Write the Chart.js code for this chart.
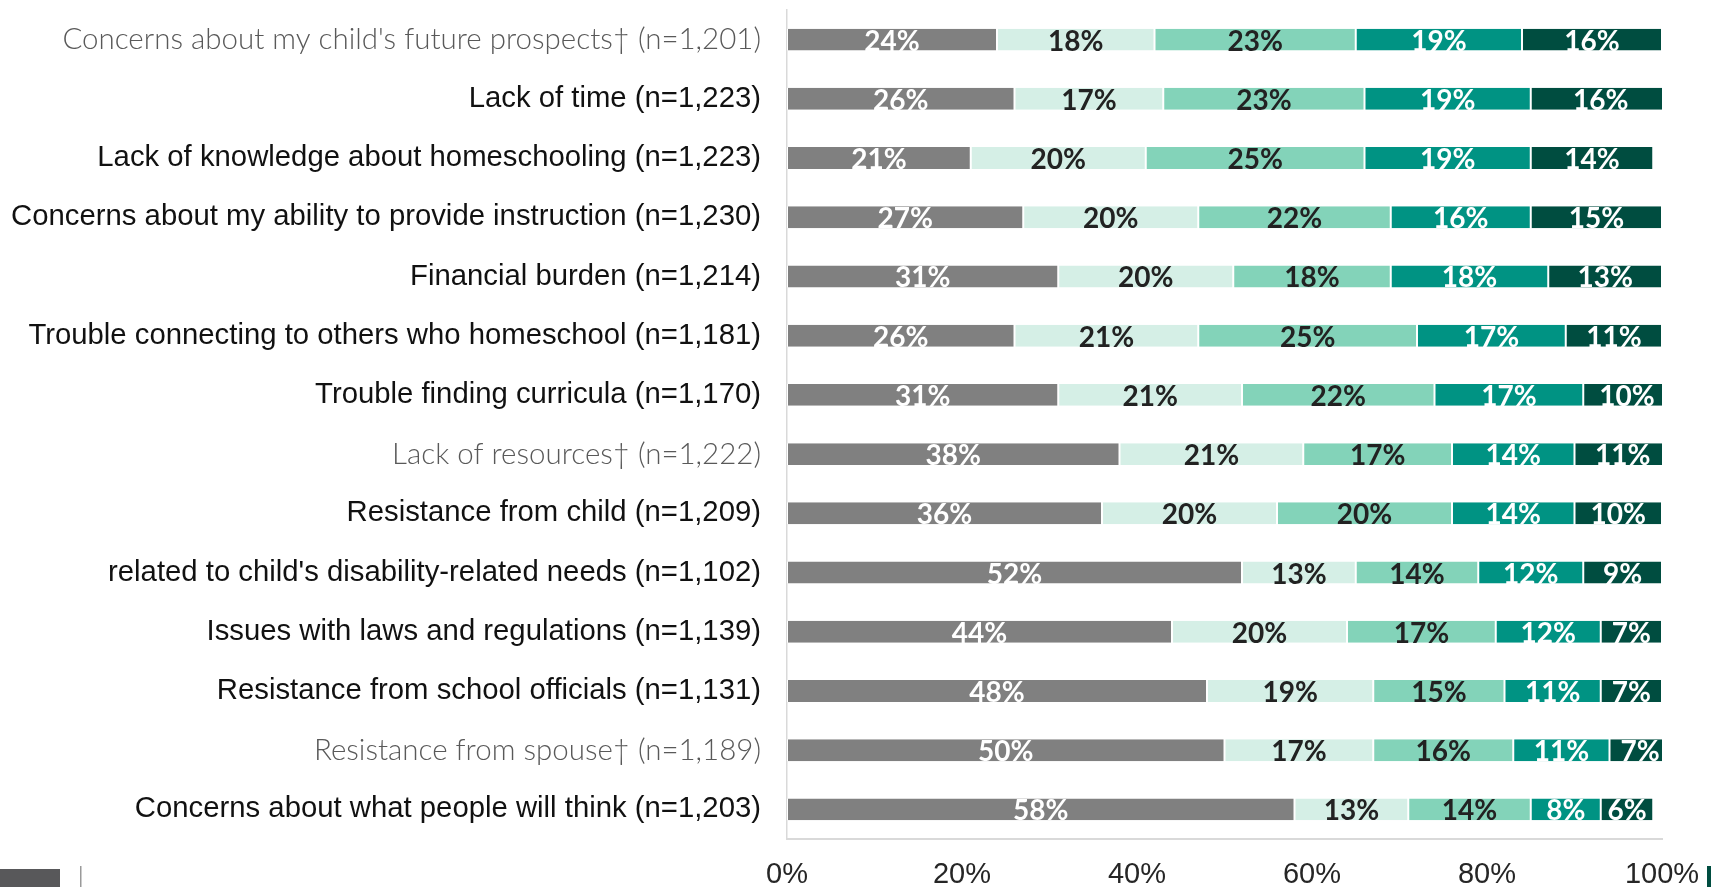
<!DOCTYPE html>
<html>
<head>
<meta charset="utf-8">
<script src="https://cdn.jsdelivr.net/npm/chart.js@4/dist/chart.umd.min.js"></script>
<style>
  html, body { margin: 0; padding: 0; background: #fff; }
  #wrap { width: 1711px; height: 887px; position: relative; }
</style>
</head>
<body>
<div id="wrap"><canvas id="barriersChart"></canvas></div>
<script>
const categories = [
  "Concerns about my child's future prospects\u2020 (n=1,201)",
  "Lack of time (n=1,223)",
  "Lack of knowledge about homeschooling (n=1,223)",
  "Concerns about my ability to provide instruction (n=1,230)",
  "Financial burden (n=1,214)",
  "Trouble connecting to others who homeschool (n=1,181)",
  "Trouble finding curricula (n=1,170)",
  "Lack of resources\u2020 (n=1,222)",
  "Resistance from child (n=1,209)",
  "related to child's disability-related needs (n=1,102)",
  "Issues with laws and regulations (n=1,139)",
  "Resistance from school officials (n=1,131)",
  "Resistance from spouse\u2020 (n=1,189)",
  "Concerns about what people will think (n=1,203)"
];

// rows marked with a dagger use the lighter label style
const daggerRows = [0, 7, 12];

const level1 = [24, 26, 21, 27, 31, 26, 31, 38, 36, 52, 44, 48, 50, 58];
const level2 = [18, 17, 20, 20, 20, 21, 21, 21, 20, 13, 20, 19, 17, 13];
const level3 = [23, 23, 25, 22, 18, 25, 22, 17, 20, 14, 17, 15, 16, 14];
const level4 = [19, 19, 19, 16, 18, 17, 17, 14, 14, 12, 12, 11, 11, 8];
const level5 = [16, 16, 14, 15, 13, 11, 10, 11, 10, 9, 7, 7, 7, 6];

const xTicks = [0, 20, 40, 60, 80, 100];

const barColors = ['#808080', '#d5efe6', '#83d3b9', '#009383', '#004d40'];
const labelColors = ['#ffffff', '#222222', '#222222', '#ffffff', '#ffffff'];

// percentage text in the middle of each segment
const segmentLabels = {
  id: 'segmentLabels',
  afterDatasetsDraw(chart) {
    const ctx = chart.ctx;
    ctx.save();
    ctx.font = 'bold 28px Lato';
    ctx.textAlign = 'center';
    ctx.textBaseline = 'middle';
    chart.data.datasets.forEach((ds, di) => {
      const meta = chart.getDatasetMeta(di);
      ctx.fillStyle = labelColors[di];
      meta.data.forEach((bar, i) => {
        const p = bar.getProps(['x', 'y', 'base'], true);
        ctx.fillText(ds.data[i] + '%', (p.x + p.base) / 2, p.y + 2);
      });
    });
    ctx.restore();
  }
};

// bits of the legend strip along the bottom edge
const legendStrip = {
  id: 'legendStrip',
  afterDraw(chart) {
    const ctx = chart.ctx;
    ctx.save();
    ctx.fillStyle = '#58585a';
    ctx.fillRect(0, 869, 60, 18);
    ctx.fillStyle = '#9a9a9a';
    ctx.fillRect(80, 866, 1.5, 21);
    ctx.fillStyle = '#004d40';
    ctx.fillRect(1707, 866, 4, 21);
    ctx.restore();
  }
};

const datasets = [level1, level2, level3, level4, level5].map((vals, i) => ({
  label: 'Level ' + (i + 1),
  data: vals,
  backgroundColor: barColors[i],
  borderColor: '#ffffff',
  borderWidth: { left: 1, right: 1, top: 0, bottom: 0 },
  borderSkipped: false,
  barPercentage: 0.37,
  categoryPercentage: 1
}));

new Chart(document.getElementById('barriersChart'), {
  type: 'bar',
  data: { labels: categories, datasets: datasets },
  options: {
    indexAxis: 'y',
    responsive: true,
    maintainAspectRatio: false,
    animation: false,
    layout: { padding: { top: 10, right: 49, left: 0, bottom: 0 } },
    plugins: {
      legend: { display: false },
      tooltip: { enabled: false }
    },
    scales: {
      x: {
        stacked: true,
        min: 0,
        max: 100,
        afterBuildTicks(scale) {
          scale.ticks = xTicks.map(v => ({ value: v }));
        },
        afterFit(scale) {
          scale.height = 48;
          scale.paddingLeft = 0;
          scale.paddingRight = 0;
        },
        grid: { display: false, drawTicks: false },
        border: { display: true, color: '#d9d9d9', width: 2 },
        ticks: {
          padding: 19,
          color: '#262626',
          font: { family: 'Liberation Sans', size: 29 },
          callback: v => v + '%'
        }
      },
      y: {
        stacked: true,
        afterFit(scale) {
          scale.width = 787;
          scale.paddingTop = 0;
          scale.paddingBottom = 0;
        },
        grid: { display: false, drawTicks: false },
        border: { display: true, color: '#d9d9d9', width: 1.5 },
        ticks: {
          padding: 26,
          autoSkip: false,
          color: ctx => daggerRows.includes(ctx.index) ? '#595959' : '#111111',
          font: ctx => daggerRows.includes(ctx.index)
            ? { family: 'Lato', weight: '300', size: 29.5 }
            : { family: 'Liberation Sans', size: 29.3 }
        }
      }
    }
  },
  plugins: [segmentLabels, legendStrip]
});
</script>
</body>
</html>
